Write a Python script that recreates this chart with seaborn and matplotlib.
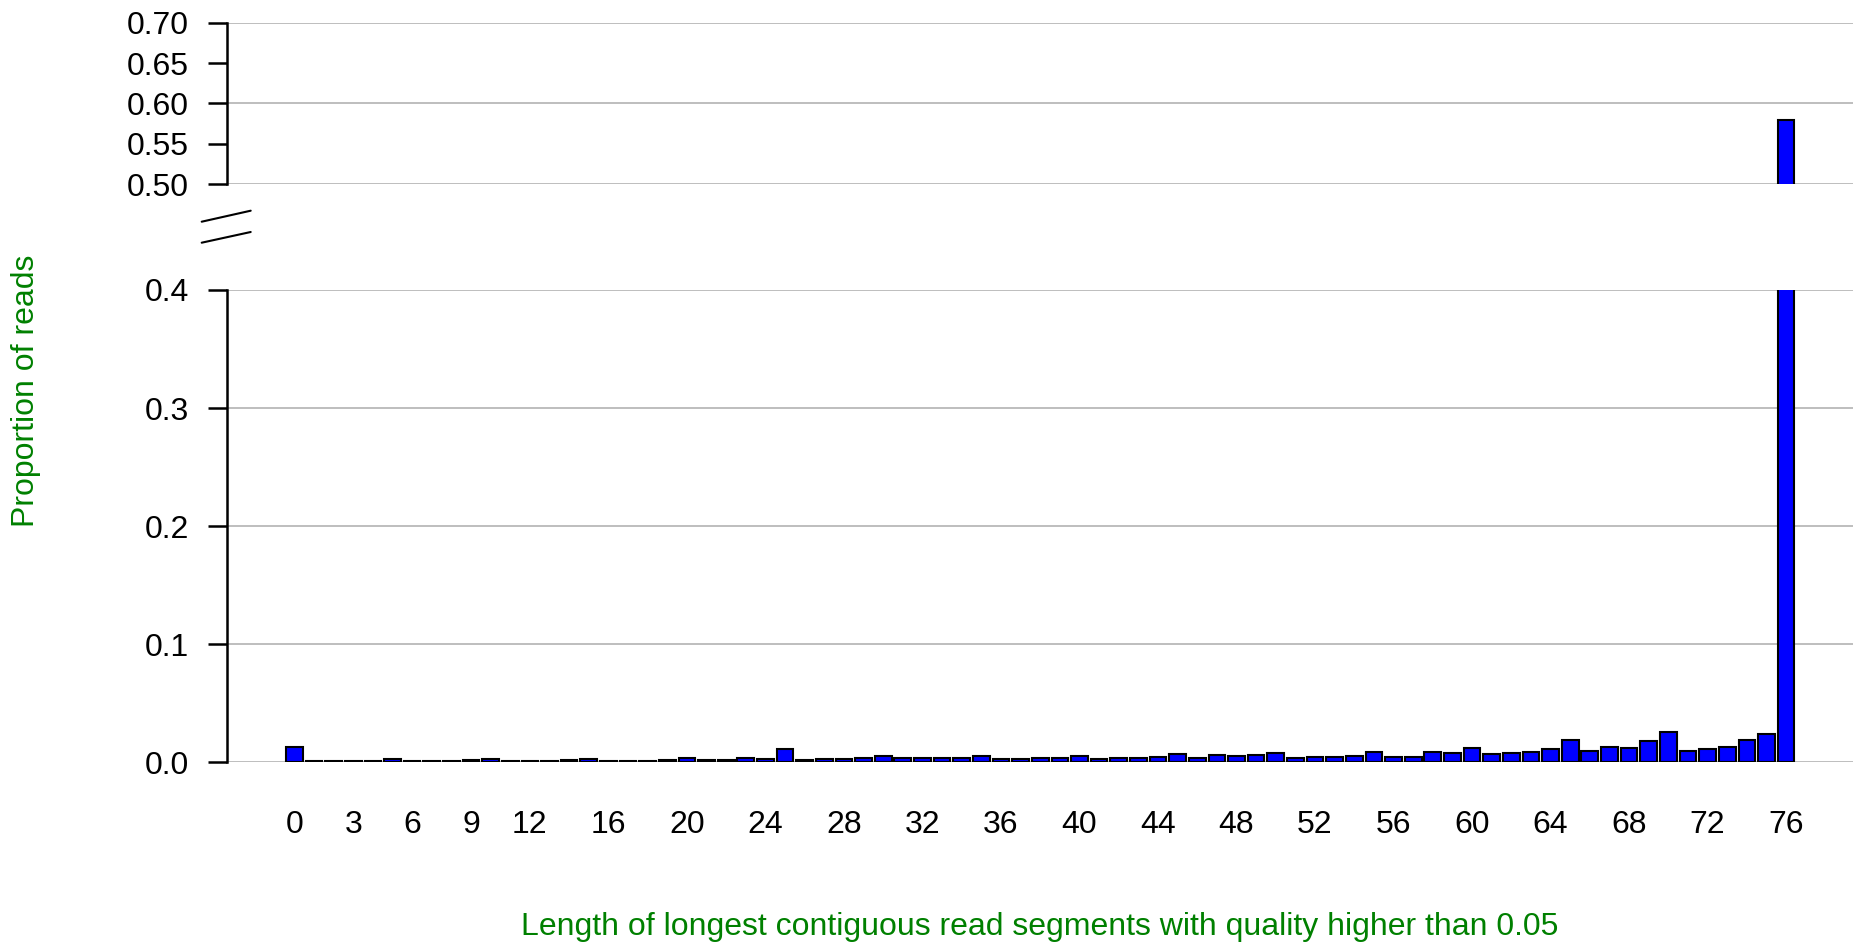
import matplotlib
matplotlib.use('Agg')
import matplotlib.pyplot as plt
import seaborn as sns
import pandas as pd
from matplotlib.lines import Line2D

# read lengths 0..76 and the proportion of reads for each
lengths = list(range(77))
proportions = [
    0.013, 0.001, 0.0008, 0.0008, 0.001, 0.0028, 0.001, 0.001, 0.001, 0.002,
    0.003, 0.001, 0.001, 0.001, 0.002, 0.003, 0.001, 0.001, 0.0015, 0.0017,
    0.0037, 0.002, 0.002, 0.004, 0.003, 0.011, 0.0022, 0.003, 0.003, 0.0034,
    0.0054, 0.004, 0.0034, 0.0037, 0.0037, 0.0054, 0.003, 0.003, 0.0037, 0.004,
    0.0056, 0.003, 0.0037, 0.0037, 0.0048, 0.007, 0.0037, 0.0065, 0.0054, 0.0065,
    0.0079, 0.004, 0.0045, 0.0045, 0.0054, 0.0085, 0.0045, 0.0045, 0.0088, 0.0079,
    0.0121, 0.007, 0.0082, 0.0085, 0.0116, 0.0189, 0.0099, 0.013, 0.0124, 0.0178,
    0.0257, 0.0096, 0.0116, 0.013, 0.0186, 0.024, 0.579,
]
xtick_vals = [0, 3, 6, 9, 12, 16, 20, 24, 28, 32, 36, 40, 44, 48, 52, 56, 60, 64, 68, 72, 76]
top_major = [0.50, 0.60, 0.70]
top_minor = [0.55, 0.65]
bottom_ticks = [0.0, 0.1, 0.2, 0.3, 0.4]

df = pd.DataFrame({'length': lengths, 'proportion': proportions})

sns.set_style('white')
plt.rcParams['font.family'] = ['Liberation Sans', 'DejaVu Sans']
plt.rcParams['text.color'] = 'black'
plt.rcParams['xtick.color'] = 'black'
plt.rcParams['ytick.color'] = 'black'

W, H = 1859, 948
fig = plt.figure(figsize=(W / 100, H / 100), dpi=100)
ax_top = fig.add_axes([0.1219, 0.8056, 0.8748, 0.1705])
ax_bot = fig.add_axes([0.1219, 0.1959, 0.8748, 0.4982])

grid_col = '#bebebe'
fs = 23
for ax in (ax_top, ax_bot):
    sns.barplot(data=df, x='length', y='proportion', color='#0000ff', saturation=1,
                edgecolor='black', linewidth=1.5, width=0.85, ax=ax)
    ax.set_xlim(-3.45, 79.4)
    ax.set_axisbelow(True)
    ax.yaxis.grid(True, color=grid_col, linewidth=1.4)
    ax.xaxis.grid(False)
    for s in ('top', 'right', 'bottom'):
        ax.spines[s].set_visible(False)
    ax.spines['left'].set_color('black')
    ax.spines['left'].set_linewidth(1.8)
    ax.tick_params(axis='y', which='both', left=True, direction='out', length=14,
                   width=1.8, color='black', labelcolor='black', labelsize=fs, pad=13)
    ax.set_xlabel('')
    ax.set_ylabel('')

ax_top.set_ylim(0.5, 0.7)
ax_top.set_yticks(top_major)
ax_top.set_yticklabels(['%.2f' % v for v in top_major])
ax_top.set_yticks(top_minor, minor=True)
ax_top.set_yticklabels(['%.2f' % v for v in top_minor], minor=True)
ax_top.set_xticks([])

ax_bot.set_ylim(0.0, 0.4)
ax_bot.set_yticks(bottom_ticks)
ax_bot.set_yticklabels(['%.1f' % v for v in bottom_ticks])
ax_bot.set_xticks(xtick_vals)
ax_bot.set_xticklabels([str(v) for v in xtick_vals])
ax_bot.tick_params(axis='x', length=0, labelsize=fs, labelcolor='black', pad=34)

# break marks between the two panels
for y0, y1 in ((221.7, 210.7), (242.7, 232.0)):
    fig.add_artist(Line2D([201.7 / W, 250.7 / W], [1 - y0 / H, 1 - y1 / H],
                          color='black', linewidth=1.5, transform=fig.transFigure))

fig.text(0.5595, 1 - 927 / H, 'Length of longest contiguous read segments with quality higher than 0.05',
         color='#008000', fontsize=fs, ha='center', va='center')
fig.text(26 / W, 1 - 391 / H, 'Proportion of reads', color='#008000', fontsize=fs,
         rotation=90, ha='center', va='center')

fig.savefig('out.png', dpi=100)
